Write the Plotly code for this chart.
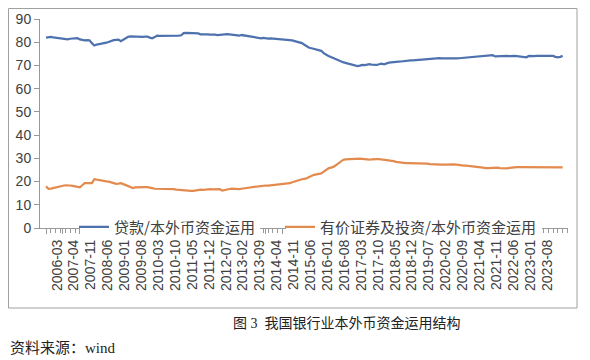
import plotly.graph_objects as go

# Categories: quarterly in 2006, monthly from 2007-01 to 2024-07
categories = ["2006-03", "2006-06", "2006-09", "2006-12"] + [
    f"{y}-{m:02d}" for y in range(2007, 2025) for m in range(1, 13)
][:211]

tick_labels = ["2006-03", "2007-04", "2007-11", "2008-06", "2009-01", "2009-08", "2010-03",
               "2010-10", "2011-05", "2011-12", "2012-07", "2013-02", "2013-09", "2014-04",
               "2014-11", "2015-06", "2016-01", "2016-08", "2017-03", "2017-10", "2018-05",
               "2018-12", "2019-07", "2020-02", "2020-09", "2021-04", "2021-11", "2022-06",
               "2023-01", "2023-08"]

loans = [
    82.0, 82.2, 82.3, 82.1, 81.9, 81.7, 81.5, 81.3, 81.1, 81.2,
    81.5, 81.7, 81.6, 81.8, 81.2, 80.9, 80.8, 80.9, 80.8, 79.6,
    78.6, 79.0, 79.3, 79.4, 79.6, 79.8, 80.2, 80.6, 80.9, 81.0,
    81.1, 80.4, 81.0, 81.7, 82.3, 82.5, 82.4, 82.3, 82.4, 82.4,
    82.3, 82.4, 82.4, 82.0, 81.7, 82.2, 82.8, 82.7, 82.7, 82.6,
    82.7, 82.7, 82.6, 82.7, 82.7, 82.8, 83.0, 83.9, 84.0, 84.0,
    83.9, 84.0, 83.9, 83.8, 83.4, 83.5, 83.4, 83.4, 83.3, 83.4,
    83.3, 83.1, 83.2, 83.5, 83.6, 83.5, 83.4, 83.3, 83.1, 82.9,
    82.8, 83.1, 82.9, 82.6, 82.4, 82.3, 82.1, 82.0, 81.8, 81.7,
    81.9, 81.7, 81.6, 81.7, 81.6, 81.6, 81.5, 81.6, 81.4, 81.2,
    81.1, 81.1, 80.8, 80.5, 80.2, 79.8, 79.6, 78.9, 78.2, 77.6,
    77.4, 77.2, 76.9, 76.7, 76.3, 75.3, 74.6, 74.1, 73.6, 73.1,
    72.6, 72.1, 71.7, 71.4, 71.1, 70.8, 70.6, 70.3, 70.0, 69.7,
    69.9, 70.2, 70.1, 70.4, 70.6, 70.3, 70.1, 70.2, 70.5, 70.8,
    70.5, 70.9, 71.2, 71.3, 71.5, 71.5, 71.6, 71.7, 71.9, 72.0,
    72.1, 72.2, 72.2, 72.3, 72.4, 72.4, 72.5, 72.6, 72.8, 72.9,
    73.0, 73.0, 73.1, 73.1, 73.0, 73.0, 72.9, 72.8, 72.7, 72.9,
    73.0, 73.1, 73.2, 73.2, 73.3, 73.5, 73.7, 73.8, 74.0, 74.1,
    74.1, 74.2, 74.3, 74.4, 74.4, 74.4, 73.9, 74.0, 74.1, 74.0,
    74.1, 74.1, 74.0, 74.2, 74.1, 74.0, 73.9, 73.8, 73.7, 73.5,
    74.1, 73.9, 74.0, 74.1, 74.1, 74.1, 74.0, 74.1, 74.1, 74.0,
    74.1, 73.7, 73.5, 73.7, 74.1,
]

securities = [
    17.9, 16.9, 17.0, 17.3, 17.5, 17.7, 17.9, 18.2, 18.4, 18.5,
    18.3, 18.1, 18.0, 17.9, 17.5, 18.4, 19.3, 19.3, 19.2, 19.3,
    21.0, 20.8, 20.4, 20.3, 20.2, 20.1, 20.0, 19.6, 19.3, 19.0,
    19.1, 19.3, 18.9, 18.4, 17.9, 17.4, 17.2, 17.5, 17.6, 17.6,
    17.5, 17.6, 17.6, 17.5, 17.2, 16.9, 16.9, 17.0, 16.9, 16.9,
    17.0, 16.9, 16.9, 16.7, 16.5, 16.4, 16.2, 16.0, 16.0, 15.9,
    16.0, 16.0, 16.2, 16.4, 16.5, 16.4, 16.6, 16.5, 16.7, 16.6,
    16.7, 16.7, 16.7, 16.1, 16.4, 16.6, 16.8, 16.9, 16.8, 16.7,
    16.7, 16.9, 17.1, 17.2, 17.4, 17.6, 17.7, 17.8, 17.9, 18.1,
    18.2, 18.3, 18.3, 18.4, 18.5, 18.5, 18.6, 18.6, 18.8, 19.0,
    19.1, 19.3, 19.7, 20.1, 20.4, 20.7, 21.0, 21.2, 21.4, 22.0,
    22.6, 22.9, 23.1, 23.3, 23.5, 24.3, 25.2, 25.7, 26.0, 26.3,
    27.0, 27.8, 28.6, 29.3, 29.5, 29.6, 29.7, 29.8, 29.9, 30.0,
    29.9, 29.8, 29.6, 29.5, 29.4, 29.6, 29.5, 29.7, 29.7, 29.6,
    29.5, 29.4, 29.2, 29.0, 28.8, 28.5, 28.3, 28.2, 28.0, 27.9,
    27.9, 27.9, 27.9, 28.0, 27.9, 27.9, 27.9, 27.8, 27.7, 27.5,
    27.4, 27.3, 27.2, 27.2, 27.3, 27.3, 27.4, 27.5, 27.5, 27.4,
    27.3, 27.1, 27.0, 26.9, 26.9, 26.8, 26.7, 26.6, 26.6, 26.4,
    26.2, 26.0, 25.8, 25.7, 25.8, 25.9, 26.0, 26.0, 25.8, 25.7,
    25.7, 25.7, 25.9, 26.1, 26.2, 26.2, 26.2, 26.2, 26.2, 26.2,
    26.1, 26.2, 26.2, 26.3, 26.2, 26.2, 26.2, 26.2, 26.3, 26.2,
    26.2, 26.3, 26.4, 26.4, 26.1,
]

series_names = ["贷款/本外币资金运用", "有价证券及投资/本外币资金运用"]
caption = "图 3  我国银行业本外币资金运用结构"
source = "资料来源：wind"

BLUE = "#4E72AE"
ORANGE = "#E38B4F"
CJK = "Noto Sans CJK SC"
NUM = "Liberation Sans, Arial, sans-serif"

# The page body has an 8px default margin, so the figure sits 8px right/down.
OFF = 8
W, H = 590, 360
PL, PR, PT, PB = 40, 568, 19, 228  # target plot-area edges on screen
pw = PR - PL
ph = PB - PT
L = PL - OFF
T = PT - OFF
R = W - L - pw
B = H - T - ph

def px_x(x):
    return (x - PL) / pw

def px_y(y):
    return (PB - y) / ph

fig = go.Figure()
fig.add_trace(go.Scatter(x=categories, y=loans, mode="lines", name=series_names[0],
                         line=dict(color=BLUE, width=2.25), legend="legend"))
fig.add_trace(go.Scatter(x=categories, y=securities, mode="lines", name=series_names[1],
                         line=dict(color=ORANGE, width=2.25), legend="legend2"))

legend_font = dict(family=CJK, size=15, color="#404040")
fig.update_layout(
    width=W, height=H,
    margin=dict(l=L, r=R, t=T, b=B, autoexpand=False),
    paper_bgcolor="white", plot_bgcolor="white",
    showlegend=True,
    legend=dict(x=px_x(74), y=px_y(227), xanchor="left", yanchor="middle",
                bgcolor="rgba(0,0,0,0)", font=legend_font, itemwidth=30),
    legend2=dict(x=px_x(280), y=px_y(227), xanchor="left", yanchor="middle",
                 bgcolor="rgba(0,0,0,0)", font=legend_font, itemwidth=30),
    xaxis=dict(type="category", range=[-2.5, 216.2],
               tickmode="array", tickvals=tick_labels, ticktext=tick_labels,
               tickangle=-90, ticklabelshift=11,
               ticks="outside", ticklen=5, tickcolor="#999999",
               minor=dict(ticks="outside", ticklen=4, tickcolor="#999999", dtick=2),
               showline=True, linecolor="#999999", linewidth=1,
               showgrid=False, zeroline=False,
               tickfont=dict(family=NUM, size=14, color="#404040")),
    yaxis=dict(range=[0, 90], dtick=10, tick0=0,
               ticks="outside", ticklen=5, tickcolor="#999999",
               showline=True, linecolor="#999999", linewidth=1,
               showgrid=False, zeroline=False,
               tickfont=dict(family=NUM, size=14, color="#404040")),
    shapes=[
        dict(type="rect", xref="paper", yref="paper",
             x0=px_x(8.5), x1=px_x(577), y0=px_y(308), y1=px_y(8.5),
             line=dict(color="#A0A0A0", width=1), fillcolor="rgba(0,0,0,0)",
             layer="above"),
        dict(type="rect", xref="paper", yref="paper",
             x0=px_x(80), x1=px_x(260), y0=px_y(235), y1=px_y(219),
             line=dict(width=0), fillcolor="white", layer="above"),
        dict(type="rect", xref="paper", yref="paper",
             x0=px_x(286), x1=px_x(542), y0=px_y(235), y1=px_y(219),
             line=dict(width=0), fillcolor="white", layer="above"),
    ],
    annotations=[
        dict(text=caption, xref="paper", yref="paper", x=px_x(347), y=px_y(323),
             xanchor="center", yanchor="middle", showarrow=False,
             font=dict(family="Liberation Serif, " + CJK, size=14, color="#222222")),
        dict(text=source, xref="paper", yref="paper", x=px_x(8), y=px_y(348),
             xanchor="left", yanchor="middle", showarrow=False,
             font=dict(family="Liberation Serif, " + CJK, size=15, color="#222222")),
    ],
)

fig.write_html("out.html")
